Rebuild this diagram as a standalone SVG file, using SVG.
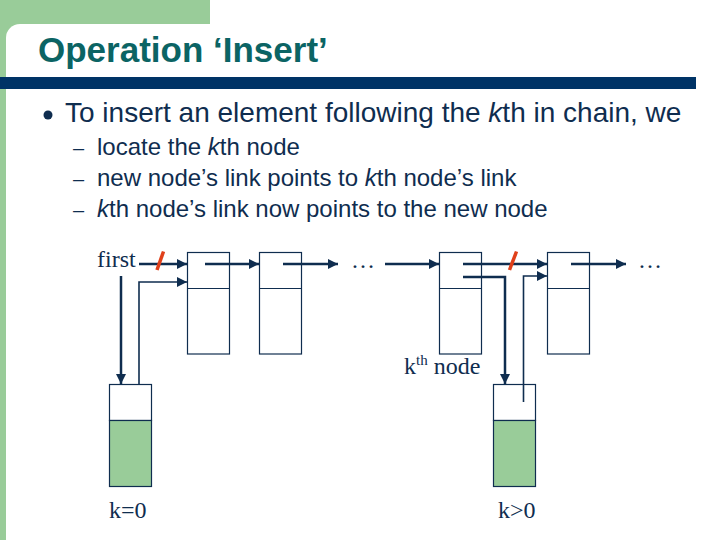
<svg xmlns="http://www.w3.org/2000/svg" width="720" height="540" viewBox="0 0 720 540">
<style>
.title{font-family:"Liberation Sans",Arial,sans-serif;font-weight:bold;font-size:35px;fill:#0B6464}
.body{font-family:"Liberation Sans",Arial,sans-serif;fill:#0F2D4F}
.serif{font-family:"Liberation Serif","Times New Roman",serif;font-size:24px;fill:#0F2D4F}
.box{fill:#FFFFFF;stroke:#0F2D4F;stroke-width:1.2}
.green{fill:#99CC99;stroke:#0F2D4F;stroke-width:1.2}
.arr{fill:none;stroke:#0F2D4F;stroke-width:2.5}
.lnk{fill:none;stroke:#0F2D4F;stroke-width:1.6}
.cut{stroke:#E0401A;stroke-width:3.5;stroke-linecap:butt}
</style>
<defs>
<marker id="ah" markerUnits="userSpaceOnUse" markerWidth="12" markerHeight="10" refX="10" refY="5" orient="auto">
<path d="M0,0 L10,5 L0,10 Z" fill="#0F2D4F"/>
</marker>
</defs>
<rect x="0" y="0" width="720" height="540" fill="#FFFFFF"/>
<rect x="0" y="0" width="210" height="40" fill="#99CC99"/>
<rect x="0" y="0" width="6" height="540" fill="#99CC99"/>
<rect x="6" y="24" width="740" height="560" rx="14" fill="#FFFFFF"/>
<rect x="0" y="77" width="696" height="12" fill="#003366"/>
<text class="title" x="38" y="62">Operation ‘Insert’</text>
<circle cx="48" cy="115" r="4.5" fill="#0F2D4F"/>
<text class="body" x="65" y="122" font-size="28">To insert an element following the <tspan font-style="italic">k</tspan>th in chain, we</text>
<text class="body" x="73" y="155" font-size="20">–</text>
<text class="body" x="97" y="155" font-size="24">locate the <tspan font-style="italic">k</tspan>th node</text>
<text class="body" x="73" y="186" font-size="20">–</text>
<text class="body" x="97" y="186" font-size="24">new node’s link points to <tspan font-style="italic">k</tspan>th node’s link</text>
<text class="body" x="73" y="217" font-size="20">–</text>
<text class="body" x="97" y="217" font-size="24"><tspan font-style="italic">k</tspan>th node’s link now points to the new node</text>

<g id="first">
<text class="serif" x="97" y="267">first</text>
</g>
<g id="node1">
<rect class="box" x="187.5" y="252.5" width="42" height="101.5"/>
<line class="box" x1="187.5" y1="288.5" x2="229.5" y2="288.5"/>
</g>
<g id="node2">
<rect class="box" x="259.5" y="252.5" width="42" height="101.5"/>
<line class="box" x1="259.5" y1="288.5" x2="301.5" y2="288.5"/>
</g>
<g id="dots1">
<text class="serif" x="351" y="268">…</text>
</g>
<g id="node3">
<rect class="box" x="439.5" y="252.5" width="42" height="101.5"/>
<line class="box" x1="439.5" y1="288.5" x2="481.5" y2="288.5"/>
</g>
<g id="node4">
<rect class="box" x="547.5" y="252.5" width="42" height="101.5"/>
<line class="box" x1="547.5" y1="288.5" x2="589.5" y2="288.5"/>
</g>
<g id="dots2">
<text class="serif" x="638" y="268">…</text>
</g>
<g id="kth-label">
<text class="serif" x="404" y="374">k<tspan font-size="15" dy="-9">th</tspan><tspan dy="9"> node</tspan></text>
</g>
<g id="newnode0">
<rect class="box" x="109.5" y="384.5" width="42" height="36"/>
<rect class="green" x="109.5" y="420.5" width="42" height="66"/>
<text class="serif" x="109" y="518">k=0</text>
</g>
<g id="newnodek">
<rect class="box" x="493.5" y="384.5" width="42" height="36"/>
<rect class="green" x="493.5" y="420.5" width="42" height="66"/>
<text class="serif" x="498" y="518">k&gt;0</text>
</g>

<g id="connectors">
<line class="arr" x1="139" y1="264" x2="187" y2="264" marker-end="url(#ah)"/>
<line class="arr" x1="205" y1="264" x2="259" y2="264" marker-end="url(#ah)"/>
<line class="arr" x1="283" y1="264" x2="338" y2="264" marker-end="url(#ah)"/>
<line class="arr" x1="385" y1="264" x2="439" y2="264" marker-end="url(#ah)"/>
<line class="arr" x1="463" y1="264" x2="547" y2="264" marker-end="url(#ah)"/>
<line class="arr" x1="571" y1="264" x2="626" y2="264" marker-end="url(#ah)"/>
<line class="arr" x1="121" y1="276" x2="121" y2="384" marker-end="url(#ah)"/>
<path class="lnk" d="M139,384 V282 H187" marker-end="url(#ah)"/>
<path class="arr" d="M463,277 H505 V384" marker-end="url(#ah)"/>
<path class="lnk" d="M523.5,402 V276 H547" marker-end="url(#ah)"/>
<line class="cut" x1="157" y1="270" x2="163.5" y2="251.5"/>
<line class="cut" x1="509.5" y1="270" x2="516.5" y2="251.5"/>
</g>
</svg>
